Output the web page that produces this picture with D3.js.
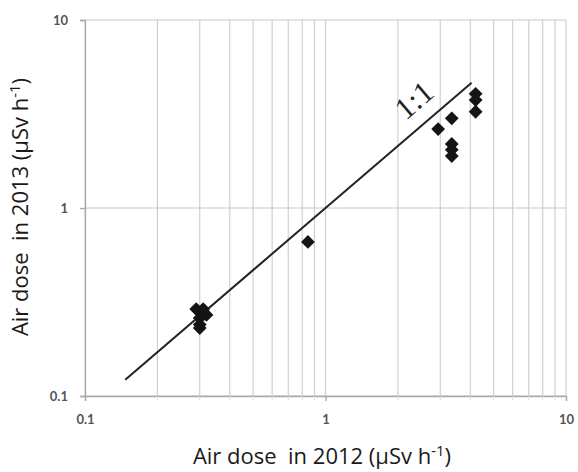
<!DOCTYPE html>
<html>
<head>
<meta charset="utf-8">
<script src="https://cdn.jsdelivr.net/npm/d3@7"></script>
<style>
  body { margin: 0; background: #fff; }
  svg { display: block; }
</style>
</head>
<body>
<svg id="chart" width="578" height="472"></svg>
<script>
// air dose 2012 vs 2013 (uSv/h)
const dose2012 = [0.29, 0.31, 0.32, 0.30, 0.31, 0.30, 0.30, 0.845, 2.94, 3.35, 3.35, 3.35, 3.35, 4.21, 4.21, 4.21];
const dose2013 = [0.29, 0.29, 0.27, 0.26, 0.28, 0.24, 0.23, 0.66, 2.63, 3.0, 2.19, 2.04, 1.89, 4.05, 3.75, 3.25];
const lineX = [0.147, 4.05];
const lineY = [0.122, 4.64];
const tickVals = [0.1, 1, 10];
const tickLabels = ["0.1", "1", "10"];

const svg = d3.select("#chart");
const margin = {left: 85, top: 20, right: 12, bottom: 76};
const W = 578, H = 472;

const x = d3.scaleLog().domain([0.1, 10]).range([margin.left, W - margin.right]);
const y = d3.scaleLog().domain([0.1, 10]).range([H - margin.bottom, margin.top]);

const minor = [];
[0.1, 1].forEach(dec => {
    for (let k = 2; k <= 9; k++) minor.push(dec * k);
});

// vertical grid lines (every minor step)
svg.append("g")
    .selectAll("line")
    .data(minor.concat(tickVals))
    .enter()
    .append("line")
    .attr("x1", d => x(d)).attr("x2", d => x(d))
    .attr("y1", y(10)).attr("y2", y(0.1))
    .style("stroke", "#d0d0d0")
    .style("stroke-width", 1.2);

// horizontal grid lines at decades
svg.append("g")
    .selectAll("line")
    .data(tickVals)
    .enter()
    .append("line")
    .attr("x1", x(0.1)).attr("x2", x(10))
    .attr("y1", d => y(d)).attr("y2", d => y(d))
    .style("stroke", "#c8c8c8")
    .style("stroke-width", 1.2);

// axes
const xAxis = d3.axisBottom(x)
    .tickValues(tickVals)
    .tickFormat((d, i) => tickLabels[i])
    .tickSize(5)
    .tickPadding(14);
const yAxis = d3.axisLeft(y)
    .tickValues(tickVals)
    .tickFormat((d, i) => tickLabels[i])
    .tickSize(5)
    .tickPadding(12);

const gx = svg.append("g")
    .attr("transform", `translate(0,${y(0.1)})`)
    .call(xAxis);
const gy = svg.append("g")
    .attr("transform", `translate(${x(0.1)},0)`)
    .call(yAxis);

[gx, gy].forEach(g => {
    g.select(".domain").style("stroke", "#a8a8a8").style("stroke-width", 1.3);
    g.selectAll(".tick line").style("stroke", "#a8a8a8").style("stroke-width", 1.3);
    g.selectAll(".tick text")
        .style("font-family", "Lato, 'Open Sans', sans-serif")
        .style("font-size", "13px")
        .style("font-weight", "bold")
        .style("fill", "#555");
});

// faint minor ticks under x axis
svg.append("g")
    .selectAll("line")
    .data(minor)
    .enter()
    .append("line")
    .attr("x1", d => x(d)).attr("x2", d => x(d))
    .attr("y1", y(0.1)).attr("y2", y(0.1) + 4)
    .style("stroke", "#dddddd");

// 1:1 line
const lineData = lineX.map((v, i) => [v, lineY[i]]);
svg.append("path")
    .datum(lineData)
    .attr("d", d3.line().x(d => x(d[0])).y(d => y(d[1])))
    .style("stroke", "#222")
    .style("stroke-width", 2)
    .style("fill", "none");

const ang = Math.atan2(y(lineY[1]) - y(lineY[0]), x(lineX[1]) - x(lineX[0])) * 180 / Math.PI;
svg.append("text")
    .attr("transform", `translate(${x(2.33)},${y(3.75)}) rotate(${ang})`)
    .attr("text-anchor", "middle")
    .attr("dominant-baseline", "central")
    .style("font-family", "'Liberation Serif', 'DejaVu Serif', serif")
    .style("font-size", "31px")
    .style("fill", "#222")
    .text("1:1");

// points
const diamond = d3.symbol().type(d3.symbolSquare).size(95);
svg.append("g")
    .selectAll("path")
    .data(dose2012.map((v, i) => [v, dose2013[i]]))
    .enter()
    .append("path")
    .attr("d", diamond)
    .attr("transform", d => `translate(${x(d[0])},${y(d[1])}) rotate(45)`)
    .style("fill", "#141414");

// axis titles (double space kept as in the original)
const labelFont = "'Open Sans', Lato, sans-serif";
const xl = svg.append("text")
    .attr("x", 322)
    .attr("y", 464)
    .attr("text-anchor", "middle")
    .style("font-family", labelFont)
    .style("font-size", "22px")
    .style("fill", "#1a1a1a");
xl.append("tspan").text("Air dose \u00a0in 2012 (\u00b5Sv h");
xl.append("tspan").attr("dy", -8).style("font-size", "15px").text("-1");
xl.append("tspan").attr("dy", 8).text(")");

const yl = svg.append("text")
    .attr("transform", `translate(28,207) rotate(-90)`)
    .attr("text-anchor", "middle")
    .style("font-family", labelFont)
    .style("font-size", "22px")
    .style("fill", "#1a1a1a");
yl.append("tspan").text("Air dose \u00a0in 2013 (\u00b5Sv h");
yl.append("tspan").attr("dy", -8).style("font-size", "15px").text("-1");
yl.append("tspan").attr("dy", 8).text(")");
</script>
</body>
</html>
